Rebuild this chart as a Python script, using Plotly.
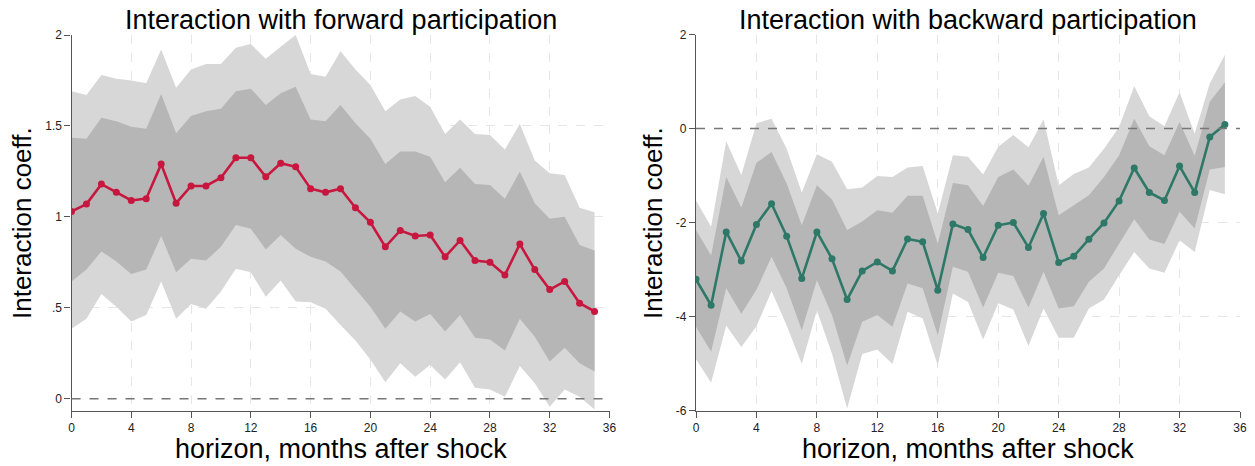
import plotly.graph_objects as go

horizon = list(range(36))

fwd_coef = [1.03, 1.07, 1.18, 1.135, 1.09, 1.10, 1.29, 1.075, 1.17, 1.17, 1.215, 1.325,
            1.325, 1.22, 1.295, 1.275, 1.155, 1.135, 1.155, 1.05, 0.97, 0.835, 0.925, 0.895,
            0.90, 0.78, 0.87, 0.76, 0.75, 0.68, 0.85, 0.71, 0.60, 0.645, 0.525, 0.48]
fwd_hi90 = [1.69, 1.67, 1.78, 1.76, 1.75, 1.735, 1.92, 1.71, 1.81, 1.84, 1.84, 1.93,
            1.95, 1.87, 1.935, 2.0, 1.785, 1.77, 1.91, 1.81, 1.725, 1.58, 1.645, 1.665,
            1.605, 1.455, 1.535, 1.455, 1.45, 1.37, 1.51, 1.31, 1.24, 1.23, 1.05, 1.025]
fwd_hi68 = [1.435, 1.43, 1.545, 1.525, 1.495, 1.485, 1.675, 1.46, 1.555, 1.58, 1.595, 1.69,
            1.705, 1.615, 1.68, 1.715, 1.535, 1.525, 1.615, 1.515, 1.43, 1.29, 1.36, 1.36,
            1.33, 1.19, 1.27, 1.18, 1.175, 1.10, 1.25, 1.075, 0.99, 1.0, 0.845, 0.815]
fwd_lo68 = [0.645, 0.71, 0.81, 0.755, 0.685, 0.71, 0.895, 0.695, 0.77, 0.76, 0.835, 0.955,
            0.935, 0.82, 0.90, 0.825, 0.78, 0.755, 0.70, 0.60, 0.505, 0.385, 0.48, 0.425,
            0.465, 0.37, 0.46, 0.335, 0.325, 0.265, 0.44, 0.34, 0.205, 0.28, 0.195, 0.15]
fwd_lo90 = [0.385, 0.44, 0.575, 0.505, 0.425, 0.46, 0.645, 0.44, 0.52, 0.495, 0.59, 0.715,
            0.695, 0.56, 0.65, 0.535, 0.53, 0.495, 0.405, 0.32, 0.215, 0.09, 0.195, 0.12,
            0.185, 0.105, 0.20, 0.06, 0.05, 0.01, 0.18, 0.085, -0.045, 0.05, 0.01, -0.06]

bwd_coef = [-3.21, -3.76, -2.20, -2.82, -2.04, -1.60, -2.29, -3.19, -2.20, -2.77, -3.64, -3.03,
            -2.84, -3.03, -2.35, -2.41, -3.44, -2.03, -2.15, -2.745, -2.06, -2.00, -2.53, -1.81,
            -2.85, -2.72, -2.355, -2.01, -1.54, -0.84, -1.36, -1.53, -0.80, -1.36, -0.18, 0.085]
bwd_hi90 = [-1.53, -2.09, -0.27, -0.99, 0.11, 0.21, -0.43, -1.36, -0.55, -0.71, -1.29, -1.255,
            -1.01, -1.03, -0.83, -0.80, -1.81, -0.57, -0.60, -0.98, -0.39, -0.14, -0.40, 0.19,
            -1.21, -0.97, -0.83, -0.43, 0.03, 0.90, 0.26, 0.05, 0.77, -0.11, 0.96, 1.57]
bwd_hi68 = [-2.16, -2.70, -1.03, -1.68, -0.73, -0.50, -1.17, -2.06, -1.21, -1.51, -2.16, -1.98,
            -1.74, -1.79, -1.43, -1.43, -2.45, -1.16, -1.21, -1.65, -1.03, -0.87, -1.22, -0.60,
            -1.845, -1.63, -1.42, -1.03, -0.57, 0.21, -0.38, -0.57, 0.14, -0.58, 0.57, 0.98]
bwd_lo68 = [-4.22, -4.75, -3.40, -3.94, -3.43, -2.73, -3.40, -4.29, -3.23, -3.97, -5.04, -4.11,
            -3.97, -4.22, -3.30, -3.40, -4.40, -2.94, -3.05, -3.81, -3.07, -3.14, -3.81, -3.05,
            -3.83, -3.78, -3.26, -2.98, -2.45, -1.93, -2.36, -2.46, -1.77, -2.13, -0.87, -0.82]
bwd_lo90 = [-4.91, -5.41, -4.19, -4.65, -4.21, -3.46, -4.19, -5.01, -3.87, -4.79, -5.96, -4.80,
            -4.70, -5.01, -3.90, -4.04, -5.04, -3.51, -3.69, -4.49, -3.72, -3.85, -4.63, -3.83,
            -4.45, -4.45, -3.83, -3.64, -3.12, -2.63, -2.98, -3.07, -2.38, -2.63, -1.31, -1.40]

x_ticks = [0, 4, 8, 12, 16, 20, 24, 28, 32, 36]
fwd_yticks = [0, 0.5, 1, 1.5, 2]
fwd_ytext = ["0", ".5", "1", "1.5", "2"]
bwd_yticks = [-6, -4, -2, 0, 2]
bwd_ytext = ["-6", "-4", "-2", "0", "2"]

titles = ["Interaction with forward participation", "Interaction with backward participation"]

LIGHT = "#d7d7d7"
DARK = "#b6b6b6"
FONT = "Liberation Sans, Arial, sans-serif"

W, H = 1255, 466


def px(v):
    return v / W


def py(v):
    return (H - v) / H


fig = go.Figure()


def add_panel(xa, ya, coef, hi90, hi68, lo68, lo90, color):
    fig.add_trace(go.Scatter(x=horizon, y=lo90, mode="lines", line=dict(width=0, color=LIGHT),
                             xaxis=xa, yaxis=ya, showlegend=False, hoverinfo="skip"))
    fig.add_trace(go.Scatter(x=horizon, y=hi90, mode="lines", line=dict(width=0, color=LIGHT),
                             fill="tonexty", fillcolor=LIGHT,
                             xaxis=xa, yaxis=ya, showlegend=False, hoverinfo="skip"))
    fig.add_trace(go.Scatter(x=horizon, y=lo68, mode="lines", line=dict(width=0, color=DARK),
                             xaxis=xa, yaxis=ya, showlegend=False, hoverinfo="skip"))
    fig.add_trace(go.Scatter(x=horizon, y=hi68, mode="lines", line=dict(width=0, color=DARK),
                             fill="tonexty", fillcolor=DARK,
                             xaxis=xa, yaxis=ya, showlegend=False, hoverinfo="skip"))
    fig.add_trace(go.Scatter(x=horizon, y=coef, mode="lines+markers",
                             line=dict(width=2.6, color=color),
                             marker=dict(size=7, color=color),
                             xaxis=xa, yaxis=ya, showlegend=False))


add_panel("x", "y", fwd_coef, fwd_hi90, fwd_hi68, fwd_lo68, fwd_lo90, "#c8173f")
add_panel("x2", "y2", bwd_coef, bwd_hi90, bwd_hi68, bwd_lo68, bwd_lo90, "#2e7868")

axis_common = dict(
    showline=True, linecolor="#555555", linewidth=1.2,
    ticks="outside", ticklen=6, tickcolor="#555555", tickwidth=1,
    showgrid=True, gridcolor="#e6e6e6", griddash="dash", gridwidth=1,
    zeroline=False, automargin=False,
    tickfont=dict(family=FONT, size=12, color="#222222"),
)

fig.update_layout(
    width=W, height=H,
    margin=dict(l=0, r=0, t=0, b=0, pad=0, autoexpand=False),
    paper_bgcolor="white", plot_bgcolor="white",
    font=dict(family=FONT),
    xaxis=dict(domain=[px(71.5), px(609.5)], range=[0, 36], tickvals=x_ticks, anchor="y", **axis_common),
    yaxis=dict(domain=[py(410.5), py(35)], range=[-0.065, 2],
               tickvals=fwd_yticks, ticktext=fwd_ytext, anchor="x", **axis_common),
    xaxis2=dict(domain=[px(696), px(1240)], range=[0, 36], tickvals=x_ticks, anchor="y2", **axis_common),
    yaxis2=dict(domain=[py(410.5), py(34.5)], range=[-6, 2],
                tickvals=bwd_yticks, ticktext=bwd_ytext, anchor="x2", **axis_common),
)

for xa, ya in [("x", "y"), ("x2", "y2")]:
    fig.add_shape(type="line", xref=xa + " domain", yref=ya, x0=0, x1=1, y0=0, y1=0,
                  line=dict(color="#777777", width=1.4, dash="dash"), layer="above")

# titles and axis titles
centers = [(71.5 + 609.5) / 2, (696 + 1240) / 2]
ytitle_x = [22, 653]
for i in range(2):
    fig.add_annotation(x=px(centers[i]), y=py(20), xref="paper", yref="paper",
                       text=titles[i], showarrow=False, xanchor="center", yanchor="middle",
                       font=dict(family=FONT, size=27, color="black"))
    fig.add_annotation(x=px(centers[i]), y=py(449), xref="paper", yref="paper",
                       text="horizon, months after shock", showarrow=False,
                       xanchor="center", yanchor="middle",
                       font=dict(family=FONT, size=27, color="black"))
    fig.add_annotation(x=px(ytitle_x[i]), y=py(223), xref="paper", yref="paper",
                       text="Interaction coeff.", showarrow=False, textangle=-90,
                       xanchor="center", yanchor="middle",
                       font=dict(family=FONT, size=26, color="black"))

fig.write_html("out.html", config={"displayModeBar": False},
               post_script="document.body.style.margin='0';")
